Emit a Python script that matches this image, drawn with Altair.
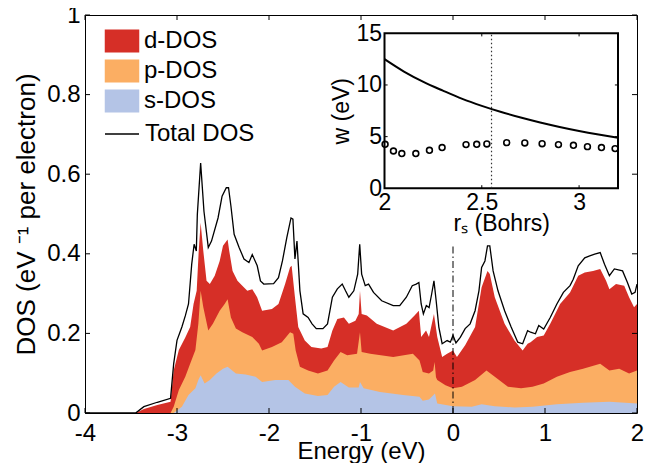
import altair as alt
import pandas as pd

# ---------------- data ----------------
total_E = [-4.0, -3.45, -3.36, -3.214, -3.07, -3.036, -3.0, -2.947, -2.91, -2.875, -2.84, -2.814,
           -2.79, -2.779, -2.743, -2.707, -2.66, -2.625, -2.554, -2.51, -2.464, -2.44, -2.414,
           -2.379, -2.325, -2.272, -2.218, -2.182, -2.128, -2.093, -2.057, -1.95, -1.897, -1.854,
           -1.807, -1.761, -1.74, -1.718, -1.696, -1.664, -1.629, -1.575, -1.532, -1.486, -1.414,
           -1.364, -1.311, -1.257, -1.204, -1.168, -1.132, -1.078, -1.036, -1.014, -0.993, -0.954,
           -0.918, -0.864, -0.775, -0.65, -0.579, -0.507, -0.443, -0.40, -0.371, -0.346, -0.322,
           -0.29, -0.26, -0.232, -0.207, -0.183, -0.154, -0.118, -0.064, -0.029, 0.0, 0.032, 0.079,
           0.132, 0.186, 0.24, 0.282, 0.311, 0.347, 0.375, 0.40, 0.436, 0.489, 0.561, 0.632, 0.704,
           0.757, 0.811, 0.843, 0.896, 0.932, 0.986, 1.057, 1.129, 1.2, 1.272, 1.307, 1.361, 1.432,
           1.486, 1.54, 1.60, 1.647, 1.70, 1.754, 1.843, 1.896, 1.943, 1.979, 2.0]
total_dos = [0.0, 0.0, 0.016, 0.027, 0.037, 0.124, 0.1825, 0.216, 0.244, 0.274, 0.374, 0.424,
             0.407, 0.499, 0.628, 0.507, 0.416, 0.432, 0.49, 0.545, 0.566, 0.566, 0.52,
             0.449, 0.416, 0.387, 0.378, 0.398, 0.37, 0.332, 0.324, 0.325, 0.34, 0.382,
             0.44, 0.49, 0.487, 0.387, 0.432, 0.307, 0.249, 0.24, 0.224, 0.212, 0.212,
             0.224, 0.291, 0.312, 0.324, 0.307, 0.291, 0.307, 0.349, 0.424, 0.349, 0.32,
             0.324, 0.303, 0.282, 0.27, 0.27, 0.291, 0.32, 0.324, 0.328, 0.274, 0.249,
             0.27, 0.265, 0.299, 0.332, 0.282, 0.216, 0.174, 0.182, 0.178, 0.195, 0.176, 0.19,
             0.212, 0.224, 0.257, 0.307, 0.366, 0.382, 0.42, 0.42, 0.357, 0.307, 0.257, 0.216, 0.178,
             0.174, 0.207, 0.203, 0.199, 0.22, 0.211, 0.24, 0.274, 0.303, 0.32, 0.336, 0.37, 0.39,
             0.395, 0.399, 0.403, 0.374, 0.345, 0.362, 0.357, 0.328, 0.299, 0.303, 0.324]

# cumulative top of the stacked areas: s+p+d
d_E = [-3.45, -3.36, -3.214, -3.07, -3.036, -2.98, -2.91, -2.857, -2.82, -2.786, -2.764, -2.743,
       -2.714, -2.679, -2.643, -2.59, -2.536, -2.5, -2.45, -2.432, -2.396, -2.343, -2.29, -2.236,
       -2.182, -2.129, -2.075, -1.968, -1.897, -1.825, -1.771, -1.754, -1.718, -1.682, -1.611,
       -1.539, -1.432, -1.364, -1.311, -1.257, -1.186, -1.132, -1.061, -1.025, -1.011, -0.993,
       -0.936, -0.829, -0.65, -0.507, -0.418, -0.371, -0.346, -0.293, -0.261, -0.207, -0.171,
       -0.118, -0.064, 0.0, 0.043, 0.132, 0.24, 0.311, 0.375, 0.40, 0.454, 0.561, 0.668, 0.757,
       0.811, 0.843, 0.914, 0.986, 1.057, 1.164, 1.272, 1.361, 1.432, 1.522, 1.60, 1.664, 1.70,
       1.772, 1.861, 1.914, 1.968, 2.0]
d_top = [0.0, 0.01, 0.02, 0.028, 0.107, 0.158, 0.19, 0.216, 0.274, 0.307, 0.407, 0.478,
         0.407, 0.332, 0.324, 0.345, 0.382, 0.42, 0.436, 0.407, 0.357, 0.332, 0.32, 0.307,
         0.311, 0.291, 0.257, 0.261, 0.274, 0.324, 0.366, 0.37, 0.291, 0.216, 0.182,
         0.166, 0.162, 0.166, 0.207, 0.236, 0.24, 0.224, 0.232, 0.249, 0.307, 0.249,
         0.245, 0.224, 0.207, 0.224, 0.245, 0.257, 0.191, 0.207, 0.191, 0.249, 0.191,
         0.141, 0.149, 0.157, 0.141, 0.17, 0.216, 0.316, 0.357, 0.349, 0.291, 0.224, 0.182, 0.157,
         0.174, 0.178, 0.191, 0.195, 0.224, 0.274, 0.303, 0.345, 0.353, 0.357, 0.362, 0.332, 0.311,
         0.324, 0.32, 0.291, 0.266, 0.274]

# cumulative top: s+p
p_E = [-3.07, -3.036, -2.98, -2.91, -2.857, -2.80, -2.768, -2.743, -2.714, -2.66, -2.61, -2.536,
       -2.482, -2.45, -2.414, -2.36, -2.29, -2.182, -2.11, -2.075, -1.968, -1.861, -1.771, -1.736,
       -1.71, -1.664, -1.575, -1.468, -1.364, -1.293, -1.222, -1.15, -1.043, -1.011, -0.993, -0.90,
       -0.65, -0.436, -0.364, -0.329, -0.261, -0.215, -0.2, -0.185, -0.171, -0.082, 0.0, 0.097,
       0.24, 0.364, 0.454, 0.597, 0.74, 0.864, 0.986, 1.129, 1.272, 1.414, 1.60, 1.70, 1.807,
       1.914, 2.0]
p_top = [0.0, 0.016, 0.058, 0.091, 0.124, 0.158, 0.224, 0.307, 0.266, 0.207, 0.224, 0.257,
         0.274, 0.286, 0.24, 0.212, 0.203, 0.191, 0.174, 0.157, 0.166, 0.178, 0.203, 0.199,
         0.157, 0.116, 0.107, 0.099, 0.107, 0.132, 0.153, 0.145, 0.149, 0.203, 0.153, 0.149,
         0.141, 0.149, 0.132, 0.103, 0.099, 0.107, 0.128, 0.09, 0.083, 0.07, 0.062, 0.066,
         0.083, 0.107, 0.091, 0.066, 0.062, 0.066, 0.074, 0.091, 0.103, 0.111, 0.124, 0.107, 0.111,
         0.099, 0.107]

s_E = [-3.036, -2.947, -2.875, -2.80, -2.768, -2.743, -2.70, -2.643, -2.571, -2.5, -2.45, -2.36,
       -2.254, -2.146, -2.075, -1.932, -1.79, -1.718, -1.611, -1.468, -1.364, -1.293, -1.222,
       -1.132, -1.025, -1.011, -0.971, -0.793, -0.543, -0.364, -0.329, -0.261, -0.196, -0.171,
       0.0, 0.204, 0.311, 0.454, 0.668, 0.864, 1.129, 1.414, 1.70, 2.0]
s_top = [0.0, 0.016, 0.045, 0.062, 0.083, 0.095, 0.074, 0.083, 0.099, 0.111, 0.116, 0.099,
         0.097, 0.091, 0.078, 0.083, 0.083, 0.066, 0.049, 0.043, 0.045, 0.066, 0.078,
         0.064, 0.064, 0.078, 0.062, 0.053, 0.045, 0.041, 0.031, 0.034, 0.049, 0.024,
         0.017, 0.016, 0.022, 0.017, 0.014, 0.016, 0.022, 0.026, 0.028, 0.024]

fermi_E = [0.0]
fermi_lo = [0.0]
fermi_hi = [0.425]

# inset
rs_line = [2.0, 2.1, 2.2, 2.3, 2.4, 2.5, 2.6, 2.7, 2.8, 2.9, 3.0, 3.1, 3.2]
w_line = [12.5, 11.3, 10.3, 9.45, 8.65, 7.98, 7.38, 6.85, 6.37, 5.94, 5.55, 5.2, 4.88]
rs_pts = [2.003, 2.046, 2.089, 2.161, 2.231, 2.296, 2.419, 2.474, 2.526, 2.628, 2.721, 2.81,
          2.894, 2.971, 3.043, 3.115, 3.185]
w_pts = [4.26, 3.61, 3.36, 3.36, 3.68, 3.94, 4.23, 4.26, 4.29, 4.42, 4.39, 4.32, 4.23, 4.16,
         4.03, 3.94, 3.84]
rs_mark = [2.55]

main_x_ticks = [-4, -3, -2, -1, 0, 1, 2]
main_y_ticks = [0, 0.2, 0.4, 0.6, 0.8, 1.0]
inset_x_ticks = [2, 2.5, 3]
inset_y_ticks = [0, 5, 10, 15]

legend_fill = ["d-DOS", "p-DOS", "s-DOS"]
legend_line = ["Total DOS"]
RED, ORANGE, BLUE = "#d62f27", "#fbae63", "#b4c4e6"

# ---------------- chart ----------------
W, H = 552, 398
FONT = "Liberation Sans"

xs = alt.Scale(domain=[-4, 2], nice=False, zero=False)
ys = alt.Scale(domain=[0, 1], nice=False, zero=False)
fill_scale = alt.Scale(domain=legend_fill, range=[RED, ORANGE, BLUE])
stroke_scale = alt.Scale(domain=legend_line, range=["black"])

x_axis = alt.Axis(values=main_x_ticks, title="Energy (eV)", labelFlush=False, labelOverlap=False,
                  grid=False, ticks=False, tickSize=0, domain=False, labelFontSize=24,
                  titleFontSize=24, labelPadding=8, titleBaseline="alphabetic", titleY=45,
                  labelExpr="'' + datum.value")
y_axis = alt.Axis(values=main_y_ticks, title="DOS (eV ⁻¹ per electron)", labelOverlap=False,
                  grid=False, ticks=False, tickSize=0, domain=False, labelFontSize=24,
                  titleFontSize=26, labelPadding=5, titlePadding=7,
                  labelExpr="'' + datum.value")

fill_legend = alt.Legend(orient="none", legendX=25, legendY=14, title=None,
                         symbolType="M-1.5,-1H1.5V1H-1.5Z", symbolSize=529,
                         symbolStrokeWidth=0, symbolOpacity=1, labelFontSize=24,
                         labelFont=FONT, labelOffset=10, rowPadding=6, padding=0)
stroke_legend = alt.Legend(orient="none", legendX=19, legendY=101, title=None,
                           symbolType="stroke", symbolSize=1156, symbolStrokeWidth=1.3,
                           labelFontSize=24, labelFont=FONT, labelOffset=5, padding=0)


def area_layer(E, top, name):
    df = pd.DataFrame({"E": E, "dos": top, "comp": name})
    return alt.Chart(df).mark_area(interpolate="linear", opacity=1).encode(
        x=alt.X("E:Q", scale=xs, axis=x_axis),
        y=alt.Y("dos:Q", scale=ys, axis=y_axis, stack=None),
        fill=alt.Fill("comp:N", scale=fill_scale, legend=fill_legend),
    )


red = area_layer(d_E, d_top, "d-DOS")
orange = area_layer(p_E, p_top, "p-DOS")
blue = area_layer(s_E, s_top, "s-DOS")

total = alt.Chart(pd.DataFrame({"E": total_E, "dos": total_dos, "comp": "Total DOS"})).mark_line(
    strokeWidth=1.3, interpolate="linear").encode(
    x=alt.X("E:Q", scale=xs, axis=x_axis),
    y=alt.Y("dos:Q", scale=ys, axis=y_axis),
    stroke=alt.Stroke("comp:N", scale=stroke_scale, legend=stroke_legend),
)

fermi = alt.Chart(pd.DataFrame({"E": fermi_E, "dos": fermi_lo, "dos2": fermi_hi})).mark_rule(
    color="black", strokeWidth=1, strokeDash=[7, 3, 1.5, 3]).encode(
    x=alt.X("E:Q", scale=xs, axis=x_axis),
    y=alt.Y("dos:Q", scale=ys, axis=y_axis),
    y2="dos2:Q",
)

xt = pd.DataFrame({"E": main_x_ticks})
yt = pd.DataFrame({"dos": main_y_ticks})
tick_style = dict(color="black", strokeWidth=1)
ticks_bottom = alt.Chart(xt).mark_rule(**tick_style).encode(
    x=alt.X("E:Q", scale=xs, axis=x_axis), y=alt.value(H), y2=alt.value(H - 5))
ticks_top = alt.Chart(xt).mark_rule(**tick_style).encode(
    x=alt.X("E:Q", scale=xs, axis=x_axis), y=alt.value(0), y2=alt.value(5))
ticks_left = alt.Chart(yt).mark_rule(**tick_style).encode(
    y=alt.Y("dos:Q", scale=ys, axis=y_axis), x=alt.value(0), x2=alt.value(5))
ticks_right = alt.Chart(yt).mark_rule(**tick_style).encode(
    y=alt.Y("dos:Q", scale=ys, axis=y_axis), x=alt.value(W), x2=alt.value(W - 5))

main = alt.layer(red, orange, blue, total, fermi, ticks_bottom, ticks_top, ticks_left, ticks_right)

# ---------------- inset ----------------
ixs = alt.Scale(domain=[2, 3.2], range=[299.5, 533], nice=False, zero=False)
iys = alt.Scale(domain=[0, 15], range=[173.3, 18.3], nice=False, zero=False)
ix_axis = alt.Axis(orient="bottom", offset=-224.7, values=inset_x_ticks, title="rₛ (Bohrs)",
                   labelFlush=False, labelOverlap=False, grid=False, ticks=False, tickSize=0,
                   domain=False, labelFontSize=23, titleFontSize=23, labelPadding=3,
                   titlePadding=-2, labelExpr="'' + datum.value")
iy_axis = alt.Axis(orient="left", offset=-299.5, values=inset_y_ticks, title="w (eV)",
                   labelOverlap=False, grid=False, ticks=False, tickSize=0, domain=False,
                   labelFontSize=23, titleFontSize=23, labelPadding=3, titlePadding=2,
                   labelExpr="'' + datum.value")

frame = alt.Chart(pd.DataFrame({"rs": [2.0], "rs2": [3.2], "w": [0.0], "w2": [15.0]})).mark_rect(
    fill="white", stroke="black", strokeWidth=2).encode(
    x=alt.X("rs:Q", scale=ixs, axis=ix_axis), x2="rs2:Q",
    y=alt.Y("w:Q", scale=iys, axis=iy_axis), y2="w2:Q")

ix_t = pd.DataFrame({"rs": inset_x_ticks[1:], "lo": 0.0, "hi": 0.3, "lo2": 15.0, "hi2": 14.7})
iy_t = pd.DataFrame({"w": inset_y_ticks[1:-1], "a": 2.0, "b": 2.016, "c": 3.2, "d": 3.184})
itick_b = alt.Chart(ix_t).mark_rule(color="black", strokeWidth=1).encode(
    x=alt.X("rs:Q", scale=ixs, axis=ix_axis), y=alt.Y("lo:Q", scale=iys, axis=iy_axis), y2="hi:Q")
itick_t = alt.Chart(ix_t).mark_rule(color="black", strokeWidth=1).encode(
    x=alt.X("rs:Q", scale=ixs, axis=ix_axis), y=alt.Y("lo2:Q", scale=iys, axis=iy_axis), y2="hi2:Q")
itick_l = alt.Chart(iy_t).mark_rule(color="black", strokeWidth=1).encode(
    y=alt.Y("w:Q", scale=iys, axis=iy_axis), x=alt.X("a:Q", scale=ixs, axis=ix_axis), x2="b:Q")
itick_r = alt.Chart(iy_t).mark_rule(color="black", strokeWidth=1).encode(
    y=alt.Y("w:Q", scale=iys, axis=iy_axis), x=alt.X("c:Q", scale=ixs, axis=ix_axis), x2="d:Q")

rs_rule = alt.Chart(pd.DataFrame({"rs": rs_mark, "w": [0.0], "w2": [15.0]})).mark_rule(
    color="#333333", strokeWidth=1.2, strokeDash=[1.5, 2.5]).encode(
    x=alt.X("rs:Q", scale=ixs, axis=ix_axis), y=alt.Y("w:Q", scale=iys, axis=iy_axis), y2="w2:Q")

w_curve = alt.Chart(pd.DataFrame({"rs": rs_line, "w": w_line})).mark_line(
    color="black", strokeWidth=2, interpolate="monotone").encode(
    x=alt.X("rs:Q", scale=ixs, axis=ix_axis), y=alt.Y("w:Q", scale=iys, axis=iy_axis))

w_points = alt.Chart(pd.DataFrame({"rs": rs_pts, "w": w_pts})).mark_point(
    shape="circle", filled=False, color="black", size=34, strokeWidth=1.6, opacity=1).encode(
    x=alt.X("rs:Q", scale=ixs, axis=ix_axis), y=alt.Y("w:Q", scale=iys, axis=iy_axis))

inset = alt.layer(frame, rs_rule, w_curve, w_points, itick_b, itick_t, itick_l, itick_r)

chart = alt.layer(main, inset).resolve_scale(x="independent", y="independent").properties(
    width=W, height=H,
    autosize=alt.AutoSizeParams(type="none"),
    padding={"left": 77, "top": 7, "right": 7, "bottom": 50},
).configure_view(stroke="black", strokeWidth=1).configure_axis(
    labelFont=FONT, titleFont=FONT, labelColor="black", titleColor="black",
    titleFontWeight="normal").configure_legend(labelColor="black")

chart.save("out.html", embed_options={"renderer": "svg", "actions": False})
